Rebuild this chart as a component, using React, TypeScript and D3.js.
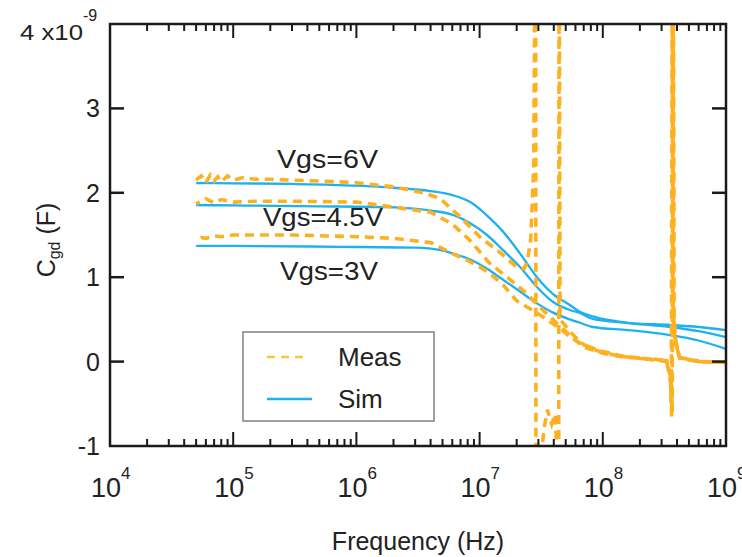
import { useEffect, useRef } from "react";
import * as d3 from "d3";

// capacitance values are in units of 1e-9 F, frequency in Hz
const sim6Freq = [5e4, 1e5, 3e5, 1e6, 2e6, 4e6, 6.1e6, 8.4e6, 1.15e7, 1.55e7, 2.13e7, 2.92e7, 3.95e7, 5.4e7, 6.5e7, 8.3e7, 1.6e8, 3.5e8, 6e8, 1e9];
const sim6 = [2.115, 2.112, 2.105, 2.085, 2.06, 2.02, 1.97, 1.89, 1.73, 1.54, 1.28, 1.0, 0.8, 0.67, 0.59, 0.535, 0.46, 0.434, 0.41, 0.374];

const sim45Freq = [5e4, 1e5, 5e5, 1.8e6, 4e6, 6.1e6, 8.4e6, 1.15e7, 1.55e7, 2.13e7, 2.92e7, 3.95e7, 5.4e7, 6.5e7, 8.3e7, 1.6e8, 3.5e8, 6e8, 1e9];
const sim45 = [1.855, 1.85, 1.84, 1.83, 1.79, 1.737, 1.64, 1.5, 1.32, 1.12, 0.884, 0.706, 0.611, 0.576, 0.505, 0.457, 0.41, 0.36, 0.29];

const sim3Freq = [5e4, 1e5, 7.4e5, 3e6, 4.8e6, 6.1e6, 8.4e6, 1.15e7, 1.55e7, 2.13e7, 2.92e7, 3.95e7, 5.4e7, 6.5e7, 8.3e7, 1.6e8, 3.5e8, 6e8, 1e9];
const sim3 = [1.37, 1.37, 1.36, 1.35, 1.32, 1.28, 1.21, 1.1, 0.97, 0.83, 0.69, 0.58, 0.5, 0.46, 0.41, 0.374, 0.315, 0.25, 0.15];

const meas6Freq = [5e4, 5.5e4, 6e4, 6.5e4, 7e4, 7.5e4, 8e4, 9e4, 1e5, 1.2e5, 1.5e5, 2e5, 3e5, 5e5, 1e6, 2e6, 3.5e6, 4.8e6, 7e6, 1e7, 1.47e7, 2e7, 2.3e7, 2.45e7, 2.6e7, 2.75e7, 2.85e7, 2.87e7, 3.05e7, 3.35e7, 3.55e7, 3.85e7, 4.1e7, 4.3e7, 4.38e7, 4.42e7, 4.5e7, 5e7, 5.7e7, 7e7, 8.5e7, 1e8, 1.4e8, 2e8, 2.6e8, 3.3e8, 3.55e8, 3.62e8, 3.68e8, 3.72e8, 3.76e8, 3.9e8, 4.2e8, 5e8, 7e8, 1e9];
const meas6 = [2.15, 2.2, 2.12, 2.21, 2.14, 2.19, 2.13, 2.2, 2.15, 2.18, 2.16, 2.16, 2.15, 2.14, 2.12, 2.07, 2.0, 1.93, 1.71, 1.48, 1.29, 1.12, 1.1, 1.2, 1.45, 2.3, 6, -3, -1.3, -0.78, -0.57, -0.74, -0.62, -1.3, -3, 6, 0.5, 0.42, 0.32, 0.2, 0.14, 0.11, 0.06, 0.04, 0.03, 0.01, -0.25, -0.65, 0.5, 5, 0.6, 0.25, 0.05, 0.02, 0.0, -0.01];

const meas45Freq = [5e4, 6e4, 7e4, 8e4, 1e5, 1.5e5, 3e5, 1e6, 2e6, 4e6, 6e6, 8.3e6, 1.2e7, 1.67e7, 2.4e7, 3e7, 4e7, 5.5e7, 7e7, 1e8, 1.4e8, 2e8, 3.3e8, 3.58e8, 3.66e8, 3.74e8, 3.78e8, 3.92e8, 4.2e8, 6e8, 1e9];
const meas45 = [1.87, 1.93, 1.88, 1.92, 1.89, 1.9, 1.9, 1.89, 1.83, 1.77, 1.63, 1.44, 1.17, 1.0, 0.81, 0.66, 0.49, 0.3, 0.17, 0.1, 0.06, 0.04, 0.01, -0.2, -0.6, 5, 0.5, 0.2, 0.04, 0.0, -0.01];

const meas3Freq = [5e4, 5.5e4, 6e4, 7e4, 8e4, 1e5, 1.5e5, 3e5, 1e6, 2e6, 4e6, 6e6, 8e6, 1.15e7, 1.55e7, 2e7, 2.9e7, 4.5e7, 5.7e7, 7e7, 1e8, 1.4e8, 2e8, 3.3e8, 3.53e8, 3.6e8, 3.66e8, 3.7e8, 3.85e8, 4.2e8, 6e8, 1e9];
const meas3 = [1.44, 1.47, 1.46, 1.49, 1.48, 1.5, 1.5, 1.5, 1.48, 1.46, 1.41, 1.28, 1.2, 1.07, 0.91, 0.72, 0.58, 0.39, 0.27, 0.2, 0.12, 0.07, 0.04, 0.0, -0.15, -0.5, 4.8, 0.7, 0.25, 0.05, 0.0, -0.01];

const yTicks = [-1, 0, 1, 2, 3];
const xDecades = [4, 5, 6, 7, 8, 9];
const vgsLabels = ["Vgs=6V", "Vgs=4.5V", "Vgs=3V"];
const legendItems = ["Meas", "Sim"];

const MEAS = "#fdb120";
const SIM = "#1eb1ef";
const FONT = "Arial, 'Liberation Sans', sans-serif";

export default function App() {
  const ref = useRef<SVGSVGElement>(null);

  useEffect(() => {
    const svg = d3.select(ref.current);
    svg.selectAll("*").remove();

    const width = 742;
    const height = 557;
    const margin = { top: 24, right: 16, bottom: 111, left: 110 };
    const x0 = margin.left, x1 = width - margin.right;
    const y0 = margin.top, y1 = height - margin.bottom;

    const x = d3.scaleLog().domain([1e4, 1e9]).range([x0, x1]);
    const y = d3.scaleLinear().domain([-1, 4]).range([y1, y0]);

    svg.append("rect").attr("width", width).attr("height", height).attr("fill", "#fff");

    svg.append("defs").append("clipPath").attr("id", "plot")
      .append("rect").attr("x", x0).attr("y", y0).attr("width", x1 - x0).attr("height", y1 - y0);

    const line = d3.line<[number, number]>().x(d => x(d[0])).y(d => y(d[1]));
    const smooth = d3.line<[number, number]>().x(d => x(d[0])).y(d => y(d[1])).curve(d3.curveMonotoneX);
    const zip = (f: number[], v: number[]) => f.map((d, i) => [d, v[i]] as [number, number]);

    const plot = svg.append("g").attr("clip-path", "url(#plot)");

    [zip(sim6Freq, sim6), zip(sim45Freq, sim45), zip(sim3Freq, sim3)].forEach(pts => {
      plot.append("path").attr("d", smooth(pts)).attr("fill", "none")
        .attr("stroke", SIM).attr("stroke-width", 2.3);
    });

    [zip(meas6Freq, meas6), zip(meas45Freq, meas45), zip(meas3Freq, meas3)].forEach((pts, i) => {
      plot.append("path").attr("d", line(pts)).attr("fill", "none")
        .attr("stroke", MEAS).attr("stroke-width", 3.6)
        .attr("stroke-dasharray", "9,6").attr("stroke-dashoffset", i * 5);
    });

    // frame
    svg.append("rect").attr("x", x0).attr("y", y0).attr("width", x1 - x0).attr("height", y1 - y0)
      .attr("fill", "none").attr("stroke", "#1a1a1a").attr("stroke-width", 2.5);

    // x ticks, inward on bottom and top
    const xt = x.ticks().filter(t => t > 1e4 && t < 1e9);
    const isMajor = (t: number) => Math.abs(Math.log10(t) - Math.round(Math.log10(t))) < 1e-9;
    xt.forEach(t => {
      const len = isMajor(t) ? 14 : 7;
      svg.append("line").attr("x1", x(t)).attr("x2", x(t)).attr("y1", y1).attr("y2", y1 - len)
        .attr("stroke", "#1a1a1a").attr("stroke-width", 2);
      svg.append("line").attr("x1", x(t)).attr("x2", x(t)).attr("y1", y0).attr("y2", y0 + len)
        .attr("stroke", "#1a1a1a").attr("stroke-width", 2);
    });

    // y ticks, inward on left and right
    yTicks.filter(t => t > -1).forEach(t => {
      svg.append("line").attr("x1", x0).attr("x2", x0 + 14).attr("y1", y(t)).attr("y2", y(t))
        .attr("stroke", "#1a1a1a").attr("stroke-width", 2.5);
      svg.append("line").attr("x1", x1).attr("x2", x1 - 14).attr("y1", y(t)).attr("y2", y(t))
        .attr("stroke", "#1a1a1a").attr("stroke-width", 2.5);
    });

    const text = (sel: any) => sel.attr("font-family", FONT).attr("fill", "#222");

    yTicks.forEach(t => {
      text(svg.append("text")).attr("x", 100).attr("y", y(t) + 9).attr("text-anchor", "end")
        .attr("font-size", 25).text(String(t));
    });
    text(svg.append("text")).attr("x", 20).attr("y", 40).attr("font-size", 22)
      .attr("textLength", 63).attr("lengthAdjust", "spacingAndGlyphs").text("4 x10");
    text(svg.append("text")).attr("x", 83).attr("y", 21).attr("font-size", 16).text("-9");

    xDecades.forEach(k => {
      const px = x(Math.pow(10, k));
      text(svg.append("text")).attr("x", px - 4).attr("y", 497).attr("text-anchor", "middle")
        .attr("font-size", 27).text("10");
      text(svg.append("text")).attr("x", px + 11).attr("y", 479).attr("font-size", 17).text(String(k));
    });

    text(svg.append("text")).attr("x", (x0 + x1) / 2).attr("y", 550).attr("text-anchor", "middle")
      .attr("font-size", 25).text("Frequency (Hz)");

    const yl = text(svg.append("text")).attr("transform", "translate(55,240) rotate(-90)")
      .attr("text-anchor", "middle").attr("font-size", 25);
    yl.append("tspan").text("C");
    yl.append("tspan").attr("font-size", 16).attr("dy", 5).text("gd");
    yl.append("tspan").attr("dy", -5).text(" (F)");

    // curve annotations
    const annX = [277, 263, 280];
    const annY = [168, 226, 280];
    const annW = [101, 120, 98];
    vgsLabels.forEach((s, i) => {
      text(svg.append("text")).attr("x", annX[i]).attr("y", annY[i])
        .attr("font-size", 25).attr("textLength", annW[i]).attr("lengthAdjust", "spacingAndGlyphs")
        .text(s);
    });

    // legend
    svg.append("rect").attr("x", 243).attr("y", 332).attr("width", 191).attr("height", 89)
      .attr("fill", "#fff").attr("stroke", "#808080").attr("stroke-width", 1.5);
    legendItems.forEach((s, i) => {
      const ly = 357 + i * 42;
      svg.append("line").attr("x1", 267).attr("x2", i === 0 ? 307 : 312).attr("y1", ly).attr("y2", ly)
        .attr("stroke", i === 0 ? "#fcc53a" : SIM).attr("stroke-width", 2.5)
        .attr("stroke-dasharray", i === 0 ? "8,6" : null);
      text(svg.append("text")).attr("x", 338).attr("y", ly + 9).attr("font-size", 26).text(s);
    });
  }, []);

  return (
    <svg ref={ref} width={742} height={557}
      style={{ position: "absolute", left: 0, top: 0 }} />
  );
}
